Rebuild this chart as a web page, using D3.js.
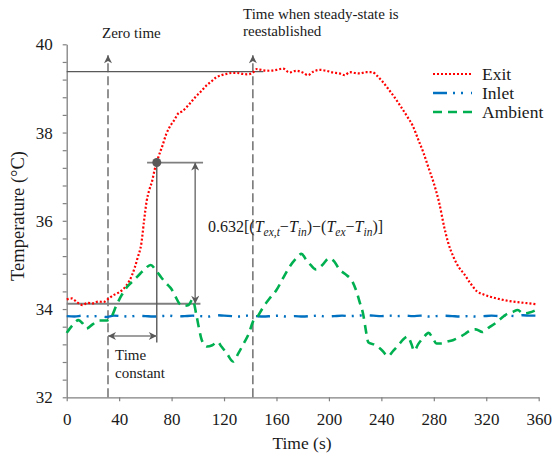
<!DOCTYPE html>
<html>
<head>
<meta charset="utf-8">
<script src="https://cdn.jsdelivr.net/npm/d3@7"></script>
<style>
  body { margin: 0; background: #fff; }
  svg text { font-family: "Liberation Serif", "Times New Roman", Times, "Nimbus Roman", "DejaVu Serif", serif !important; fill: #1a1a1a; }
</style>
</head>
<body>
<div id="chart-area"></div>
<script>
// exit air temperature (t [s], T [°C])
var exitData = [
  [0,34.22],[4,34.24],[8,34.15],[12,34.09],[16,34.14],[20,34.13],[24,34.17],[28,34.16],[32,34.24],
  [36,34.32],[40,34.38],[44,34.48],[48,34.65],[52,34.95],[54,35.15],[57,35.5],[59,36.0],[61,36.45],
  [63,36.7],[65,36.88],[67,37.15],[70,37.45],[73,37.7],[76,37.97],[79,38.15],[82,38.28],[85,38.43],
  [88,38.48],[91,38.56],[94,38.66],[98,38.8],[102,38.92],[106,39.05],[110,39.15],[114,39.25],[118,39.3],
  [122,39.33],[126,39.35],[130,39.35],[134,39.33],[138,39.32],[142,39.36],[145,39.44],[150,39.41],
  [155,39.4],[160,39.42],[165,39.45],[170,39.36],[175,39.4],[180,39.36],[184,39.3],[188,39.38],
  [193,39.42],[198,39.4],[203,39.36],[208,39.34],[212,39.3],[216,39.37],[220,39.35],[224,39.34],
  [228,39.37],[233,39.37],[237,39.28],[241,39.15],[245,39.0],[250,38.8],[255,38.58],[260,38.35],
  [264,38.15],[268,37.85],[272,37.55],[276,37.2],[280,36.85],[284,36.42],[288,35.85],[291,35.5],
  [295,35.18],[299,34.95],[303,34.8],[308,34.58],[313,34.4],[318,34.33],[323,34.28],[328,34.24],
  [334,34.2],[340,34.17],[346,34.15],[352,34.13],[358,34.11]
];

var inletData = [
  [0,33.84],[6,33.83],[12,33.85],[18,33.83],[24,33.84],[30,33.82],[36,33.85],[42,33.84],[48,33.83],
  [54,33.85],[60,33.84],[66,33.83],[72,33.84],[78,33.85],[84,33.83],[90,33.84],[96,33.85],[102,33.84],
  [108,33.83],[114,33.86],[120,33.85],[126,33.84],[132,33.83],[138,33.85],[144,33.84],[150,33.83],
  [156,33.84],[162,33.85],[168,33.83],[174,33.84],[180,33.83],[186,33.84],[192,33.85],[198,33.83],
  [204,33.84],[210,33.85],[216,33.84],[222,33.85],[228,33.86],[234,33.85],[240,33.84],[246,33.85],
  [252,33.84],[258,33.85],[264,33.84],[270,33.85],[276,33.83],[282,33.84],[288,33.85],[294,33.84],
  [300,33.83],[306,33.84],[312,33.83],[318,33.84],[324,33.85],[330,33.84],[336,33.85],[342,33.84],
  [348,33.86],[354,33.85],[360,33.85]
];

var ambientData = [
  [0,33.46],[4,33.62],[9,33.75],[12,33.68],[15,33.56],[20,33.66],[25,33.74],[30,33.74],[34,33.82],
  [38,34.09],[42,34.32],[46,34.5],[51,34.65],[56,34.8],[60,34.92],[64,35.0],[68,34.88],[72,34.72],
  [76,34.58],[80,34.45],[83,34.28],[86,34.12],[89,34.07],[93,34.09],[96,34.22],[99,33.85],[101,33.55],
  [103,33.3],[107,33.15],[111,33.18],[115,33.26],[118,33.15],[122,33.0],[127,32.81],[131,33.0],
  [135,33.22],[139,33.45],[142,33.71],[146,33.85],[150,34.05],[155,34.25],[160,34.43],[165,34.7],
  [170,34.96],[175,35.15],[179,35.25],[183,35.1],[186,35.0],[190,34.9],[195,35.0],[200,35.15],
  [204,35.08],[208,34.9],[213,34.78],[218,34.62],[221,34.4],[224,34.1],[226,33.9],[228,33.55],
  [230,33.25],[234,33.2],[237,33.15],[241,33.05],[245,32.93],[249,33.05],[253,33.18],[257,33.32],
  [260,33.38],[263,33.2],[265,33.05],[268,33.2],[272,33.35],[276,33.46],[279,33.35],[282,33.22],
  [286,33.22],[290,33.26],[295,33.3],[300,33.37],[304,33.44],[308,33.52],[312,33.54],[317,33.48],
  [322,33.58],[327,33.68],[331,33.78],[336,33.89],[340,33.93],[344,33.98],[348,33.9],[353,33.92],
  [358,33.98]
];

var xTicks = [0, 40, 80, 120, 160, 200, 240, 280, 320, 360];
var yLabels = [32, 34, 36, 38, 40];
var legendNames = ["Exit", "Inlet", "Ambient"];

// annotation values
var zeroTime = 31.5;
var steadyTime = 142;
var steadyTemp = 39.38;
var tauTime = 68.7;
var tauTemp = 37.32;
var startTemp = 34.12;
var arrowTopTemp = 39.75;

var serif = "'Liberation Serif', 'Times New Roman', Times, 'Nimbus Roman', 'DejaVu Serif', serif";

var margin = { top: 44.3, right: 13.3, bottom: 56.7, left: 66.7 };
var width = 552 - margin.left - margin.right;
var height = 454 - margin.top - margin.bottom;

var svg = d3.select("#chart-area")
  .append("svg")
  .attr("width", 552)
  .attr("height", 454)
  .attr("font-family", serif);

var defs = svg.append("defs");
defs.append("marker")
  .attr("id", "arrow")
  .attr("viewBox", "0 0 10 10")
  .attr("refX", 10).attr("refY", 5)
  .attr("markerUnits", "userSpaceOnUse")
  .attr("markerWidth", 9).attr("markerHeight", 8)
  .attr("orient", "auto-start-reverse")
  .append("path")
  .attr("d", "M0,0 L10,5 L0,10 L3,5 z")
  .attr("fill", "#595959");

var g = svg.append("g")
  .attr("transform", "translate(" + margin.left + "," + margin.top + ")");

var x = d3.scaleLinear().domain([0, 360]).range([0, width]);
var y = d3.scaleLinear().domain([32, 40]).range([height, 0]);

// axes
var xAxis = d3.axisBottom(x).tickValues(xTicks).tickSizeInner(4).tickSizeOuter(0).tickPadding(11.6);
var yAxis = d3.axisLeft(y)
  .tickValues(d3.range(0, 21).map(function(i){ return 32 + i * 0.4; }))
  .tickFormat(function(d){
    var r = Math.round(d * 10) / 10;
    return yLabels.indexOf(r) >= 0 ? r : "";
  })
  .tickSizeInner(4).tickSizeOuter(0).tickPadding(10);

var xAxisGroup = g.append("g").attr("transform", "translate(0," + height + ")").call(xAxis);
var yAxisGroup = g.append("g").call(yAxis);

[xAxisGroup, yAxisGroup].forEach(function(ax){
  ax.attr("font-family", serif).attr("font-size", 17);
  ax.select(".domain").attr("stroke", "#808080").attr("stroke-width", 1.3);
  ax.selectAll(".tick line").attr("stroke", "#808080").attr("stroke-width", 1.2);
  ax.selectAll(".tick text").attr("fill", "#1a1a1a");
});

// axis titles
svg.append("text")
  .attr("x", 302).attr("y", 449)
  .attr("text-anchor", "middle")
  .attr("font-size", 17.5)
  .text("Time (s)");

svg.append("text")
  .attr("transform", "translate(24,216) rotate(-90)")
  .attr("text-anchor", "middle")
  .attr("font-size", 18.5)
  .text("Temperature (°C)");

// annotation lines (behind the series)
var ann = g.append("g");
var dark = "#595959";
var mid = "#7f7f7f";

// steady-state level
ann.append("line")
  .attr("x1", x(0)).attr("x2", x(150))
  .attr("y1", y(steadyTemp)).attr("y2", y(steadyTemp))
  .attr("stroke", dark).attr("stroke-width", 1.4);

// zero time and steady-state time markers
[zeroTime, steadyTime].forEach(function(t){
  ann.append("line")
    .attr("x1", x(t)).attr("x2", x(t))
    .attr("y1", y(32)).attr("y2", y(arrowTopTemp))
    .attr("stroke", dark).attr("stroke-width", 1.3)
    .attr("stroke-dasharray", "9,4")
    .attr("marker-end", "url(#arrow)");
});

// starting level
ann.append("line")
  .attr("x1", x(0)).attr("x2", x(102))
  .attr("y1", y(startTemp)).attr("y2", y(startTemp))
  .attr("stroke", mid).attr("stroke-width", 1.8);

// 63.2 % level
ann.append("line")
  .attr("x1", x(61.3)).attr("x2", x(104))
  .attr("y1", y(tauTemp)).attr("y2", y(tauTemp))
  .attr("stroke", mid).attr("stroke-width", 1.8);

// time constant drop line
ann.append("line")
  .attr("x1", x(tauTime)).attr("x2", x(tauTime))
  .attr("y1", y(tauTemp)).attr("y2", y(33.24))
  .attr("stroke", dark).attr("stroke-width", 1.4);

// 0.632 rise double arrow
ann.append("line")
  .attr("x1", x(98)).attr("x2", x(98))
  .attr("y1", y(tauTemp)).attr("y2", y(startTemp))
  .attr("stroke", mid).attr("stroke-width", 1.6)
  .attr("marker-start", "url(#arrow)")
  .attr("marker-end", "url(#arrow)");

// time constant double arrow
ann.append("line")
  .attr("x1", x(zeroTime)).attr("x2", x(tauTime))
  .attr("y1", y(33.39)).attr("y2", y(33.39))
  .attr("stroke", mid).attr("stroke-width", 1.6)
  .attr("marker-start", "url(#arrow)")
  .attr("marker-end", "url(#arrow)");

// series
var line = d3.line()
  .x(function(d){ return x(d[0]); })
  .y(function(d){ return y(d[1]); })
  .curve(d3.curveMonotoneX);

var series = [
  { name: "Exit", data: exitData, color: "#ff0000", dash: "2,2", w: 2.2 },
  { name: "Inlet", data: inletData, color: "#0070c0", dash: "14,6,2,6,2,8", w: 2.4 },
  { name: "Ambient", data: ambientData, color: "#00b050", dash: "9,6", w: 2.6 }
];

g.selectAll(".series")
  .data(series)
  .enter()
  .append("path")
  .attr("class", "series")
  .attr("d", function(d){ return line(d.data); })
  .attr("fill", "none")
  .attr("stroke", function(d){ return d.color; })
  .attr("stroke-width", function(d){ return d.w; })
  .attr("stroke-dasharray", function(d){ return d.dash; });

// time constant point
g.append("circle")
  .attr("cx", x(tauTime)).attr("cy", y(tauTemp))
  .attr("r", 4.5)
  .attr("fill", dark);

// annotation texts
svg.append("text").attr("x", 102).attr("y", 38).attr("font-size", 15).text("Zero time");
svg.append("text").attr("x", 243).attr("y", 19).attr("font-size", 15).text("Time when steady-state is");
svg.append("text").attr("x", 243).attr("y", 36).attr("font-size", 15).text("reestablished");
svg.append("text").attr("x", 115).attr("y", 360).attr("font-size", 15).text("Time");
svg.append("text").attr("x", 115).attr("y", 377.7).attr("font-size", 15).text("constant");

var formula = svg.append("text").attr("x", 208).attr("y", 231.5).attr("font-size", 16);
var parts = [
  { t: "0.632[(" },
  { t: "T", it: true },
  { t: "ex,t", it: true, sub: true },
  { t: "−" },
  { t: "T", it: true },
  { t: "in", it: true, sub: true },
  { t: ")−(" },
  { t: "T", it: true },
  { t: "ex", it: true, sub: true },
  { t: "−" },
  { t: "T", it: true },
  { t: "in", it: true, sub: true },
  { t: ")]" }
];
var wasSub = false;
parts.forEach(function(p){
  var ts = formula.append("tspan").text(p.t);
  if (p.it) ts.attr("font-style", "italic");
  if (p.sub) { ts.attr("font-size", 11.5).attr("dy", 4); wasSub = true; }
  else if (wasSub) { ts.attr("dy", -4); wasSub = false; }
});

// legend
var legend = svg.append("g").attr("transform", "translate(433,74)");
var items = legend.selectAll("g")
  .data(series)
  .enter()
  .append("g")
  .attr("transform", function(d, i){ return "translate(0," + (i * 19) + ")"; });
items.append("line")
  .attr("x1", 0).attr("x2", 39)
  .attr("stroke", function(d){ return d.color; })
  .attr("stroke-width", function(d){ return d.w; })
  .attr("stroke-dasharray", function(d){ return d.dash; });
items.append("text")
  .attr("x", 49).attr("y", 6)
  .attr("font-size", 17.5)
  .text(function(d, i){ return legendNames[i]; });
</script>
</body>
</html>
